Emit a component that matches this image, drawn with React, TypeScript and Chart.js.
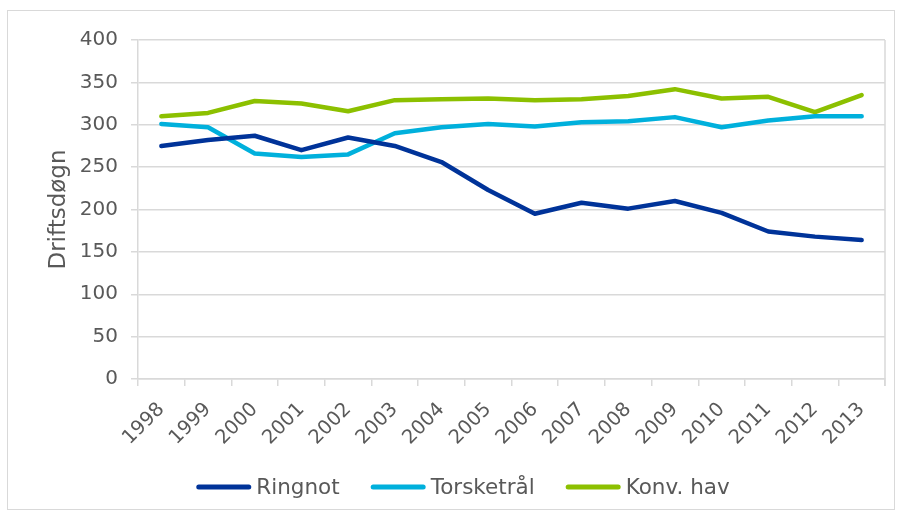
import React, { useEffect, useRef } from "react";
import { Chart, registerables } from "chart.js";

Chart.register(...registerables);

const years = ["1998","1999","2000","2001","2002","2003","2004","2005","2006","2007","2008","2009","2010","2011","2012","2013"];
const ringnot = [275, 282, 287, 270, 285, 275, 256, 223, 195, 208, 201, 210, 196, 174, 168, 164];
const torsketral = [301, 297, 266, 262, 265, 290, 297, 301, 298, 303, 304, 309, 297, 305, 310, 310];
const konvHav = [310, 314, 328, 325, 316, 329, 330, 331, 329, 330, 334, 342, 331, 333, 315, 335];
const yTicks = [0, 50, 100, 150, 200, 250, 300, 350, 400];

const GRID = "#d9d9d9";
const TEXT = "#595959";
const FONT = "'DejaVu Sans', Verdana, sans-serif";
const PAD_LEFT = 41;
const PAD_RIGHT = 18;

const rightEdge = {
  id: "rightEdge",
  afterDraw(chart: any) {
    const { ctx, chartArea } = chart;
    ctx.save();
    ctx.strokeStyle = GRID;
    ctx.lineWidth = 1.5;
    ctx.beginPath();
    ctx.moveTo(chartArea.right, chartArea.top);
    ctx.lineTo(chartArea.right, chartArea.bottom + 7);
    ctx.stroke();
    ctx.restore();
  },
};

const bottomLegend = {
  id: "bottomLegend",
  afterDraw(chart: any) {
    const { ctx } = chart;
    const ds = chart.data.datasets;
    const lineW = 55;
    const gapText = 5;
    const gapItem = 31;
    ctx.save();
    ctx.font = `21.5px ${FONT}`;
    const widths = ds.map((d: any) => ctx.measureText(d.label).width);
    const total =
      widths.reduce((a: number, w: number) => a + lineW + gapText + w, 0) + gapItem * (ds.length - 1);
    const center = (PAD_LEFT + chart.width - PAD_RIGHT) / 2;
    let x = center - total / 2;
    const y = 487;
    ctx.textBaseline = "middle";
    ctx.textAlign = "left";
    ds.forEach((d: any, i: number) => {
      ctx.strokeStyle = d.borderColor;
      ctx.lineWidth = 5;
      ctx.lineCap = "round";
      ctx.beginPath();
      ctx.moveTo(x + 2.5, y);
      ctx.lineTo(x + lineW - 2.5, y);
      ctx.stroke();
      x += lineW + gapText;
      ctx.fillStyle = TEXT;
      ctx.fillText(d.label, x, y + 1);
      x += widths[i] + gapItem;
    });
    ctx.restore();
  },
};

export default function App() {
  const ref = useRef<HTMLCanvasElement | null>(null);
  useEffect(() => {
    if (!ref.current) return;
    const mk = (label: string, data: number[], color: string) => ({
      label,
      data,
      borderColor: color,
      backgroundColor: color,
      borderWidth: 4.5,
      pointRadius: 0,
      tension: 0,
      borderCapStyle: "round" as const,
      borderJoinStyle: "round" as const,
    });
    const chart = new Chart(ref.current, {
      type: "line",
      data: {
        labels: years,
        datasets: [
          mk("Ringnot", ringnot, "#003399"),
          mk("Torsketrål", torsketral, "#00b0dc"),
          mk("Konv. hav", konvHav, "#8cc000"),
        ],
      },
      options: {
        animation: false,
        responsive: false,
        layout: { padding: { left: PAD_LEFT, top: 40, right: PAD_RIGHT, bottom: 61 } },
        plugins: {
          tooltip: { enabled: false },
          legend: { display: false },
        },
        scales: {
          x: {
            offset: true,
            grid: {
              offset: true,
              drawOnChartArea: false,
              drawTicks: true,
              tickLength: 7,
              color: GRID,
              lineWidth: 1.5,
            },
            border: { color: GRID, width: 1.5 },
            ticks: {
              minRotation: 45,
              maxRotation: 45,
              color: TEXT,
              font: { family: FONT, size: 19.5 },
              padding: 12,
            },
            afterFit(scale: any) {
              scale.height = 75;
            },
          },
          y: {
            min: 0,
            max: 400,
            afterBuildTicks(scale: any) {
              scale.ticks = yTicks.map((v) => ({ value: v }));
            },
            grid: { color: GRID, lineWidth: 1.5, tickLength: 7 },
            border: { color: GRID, width: 1.5 },
            ticks: {
              color: TEXT,
              font: { family: FONT, size: 20 },
              padding: 13,
            },
            title: {
              display: true,
              text: "Driftsdøgn",
              color: TEXT,
              font: { family: FONT, size: 23 },
              padding: { top: 4, bottom: 4 },
            },
            afterFit(scale: any) {
              scale.width = 97;
            },
          },
        },
      },
      plugins: [rightEdge, bottomLegend],
    });
    return () => chart.destroy();
  }, []);
  return (
    <div style={{ position: "fixed", left: 0, top: 0, width: 903, height: 515, background: "#fff" }}>
      <div
        style={{
          position: "absolute",
          left: 7,
          top: 10,
          width: 888,
          height: 500,
          border: "1px solid #d9d9d9",
          boxSizing: "border-box",
        }}
      />
      <canvas ref={ref} width={903} height={515} style={{ position: "absolute", left: 0, top: 0 }} />
    </div>
  );
}
